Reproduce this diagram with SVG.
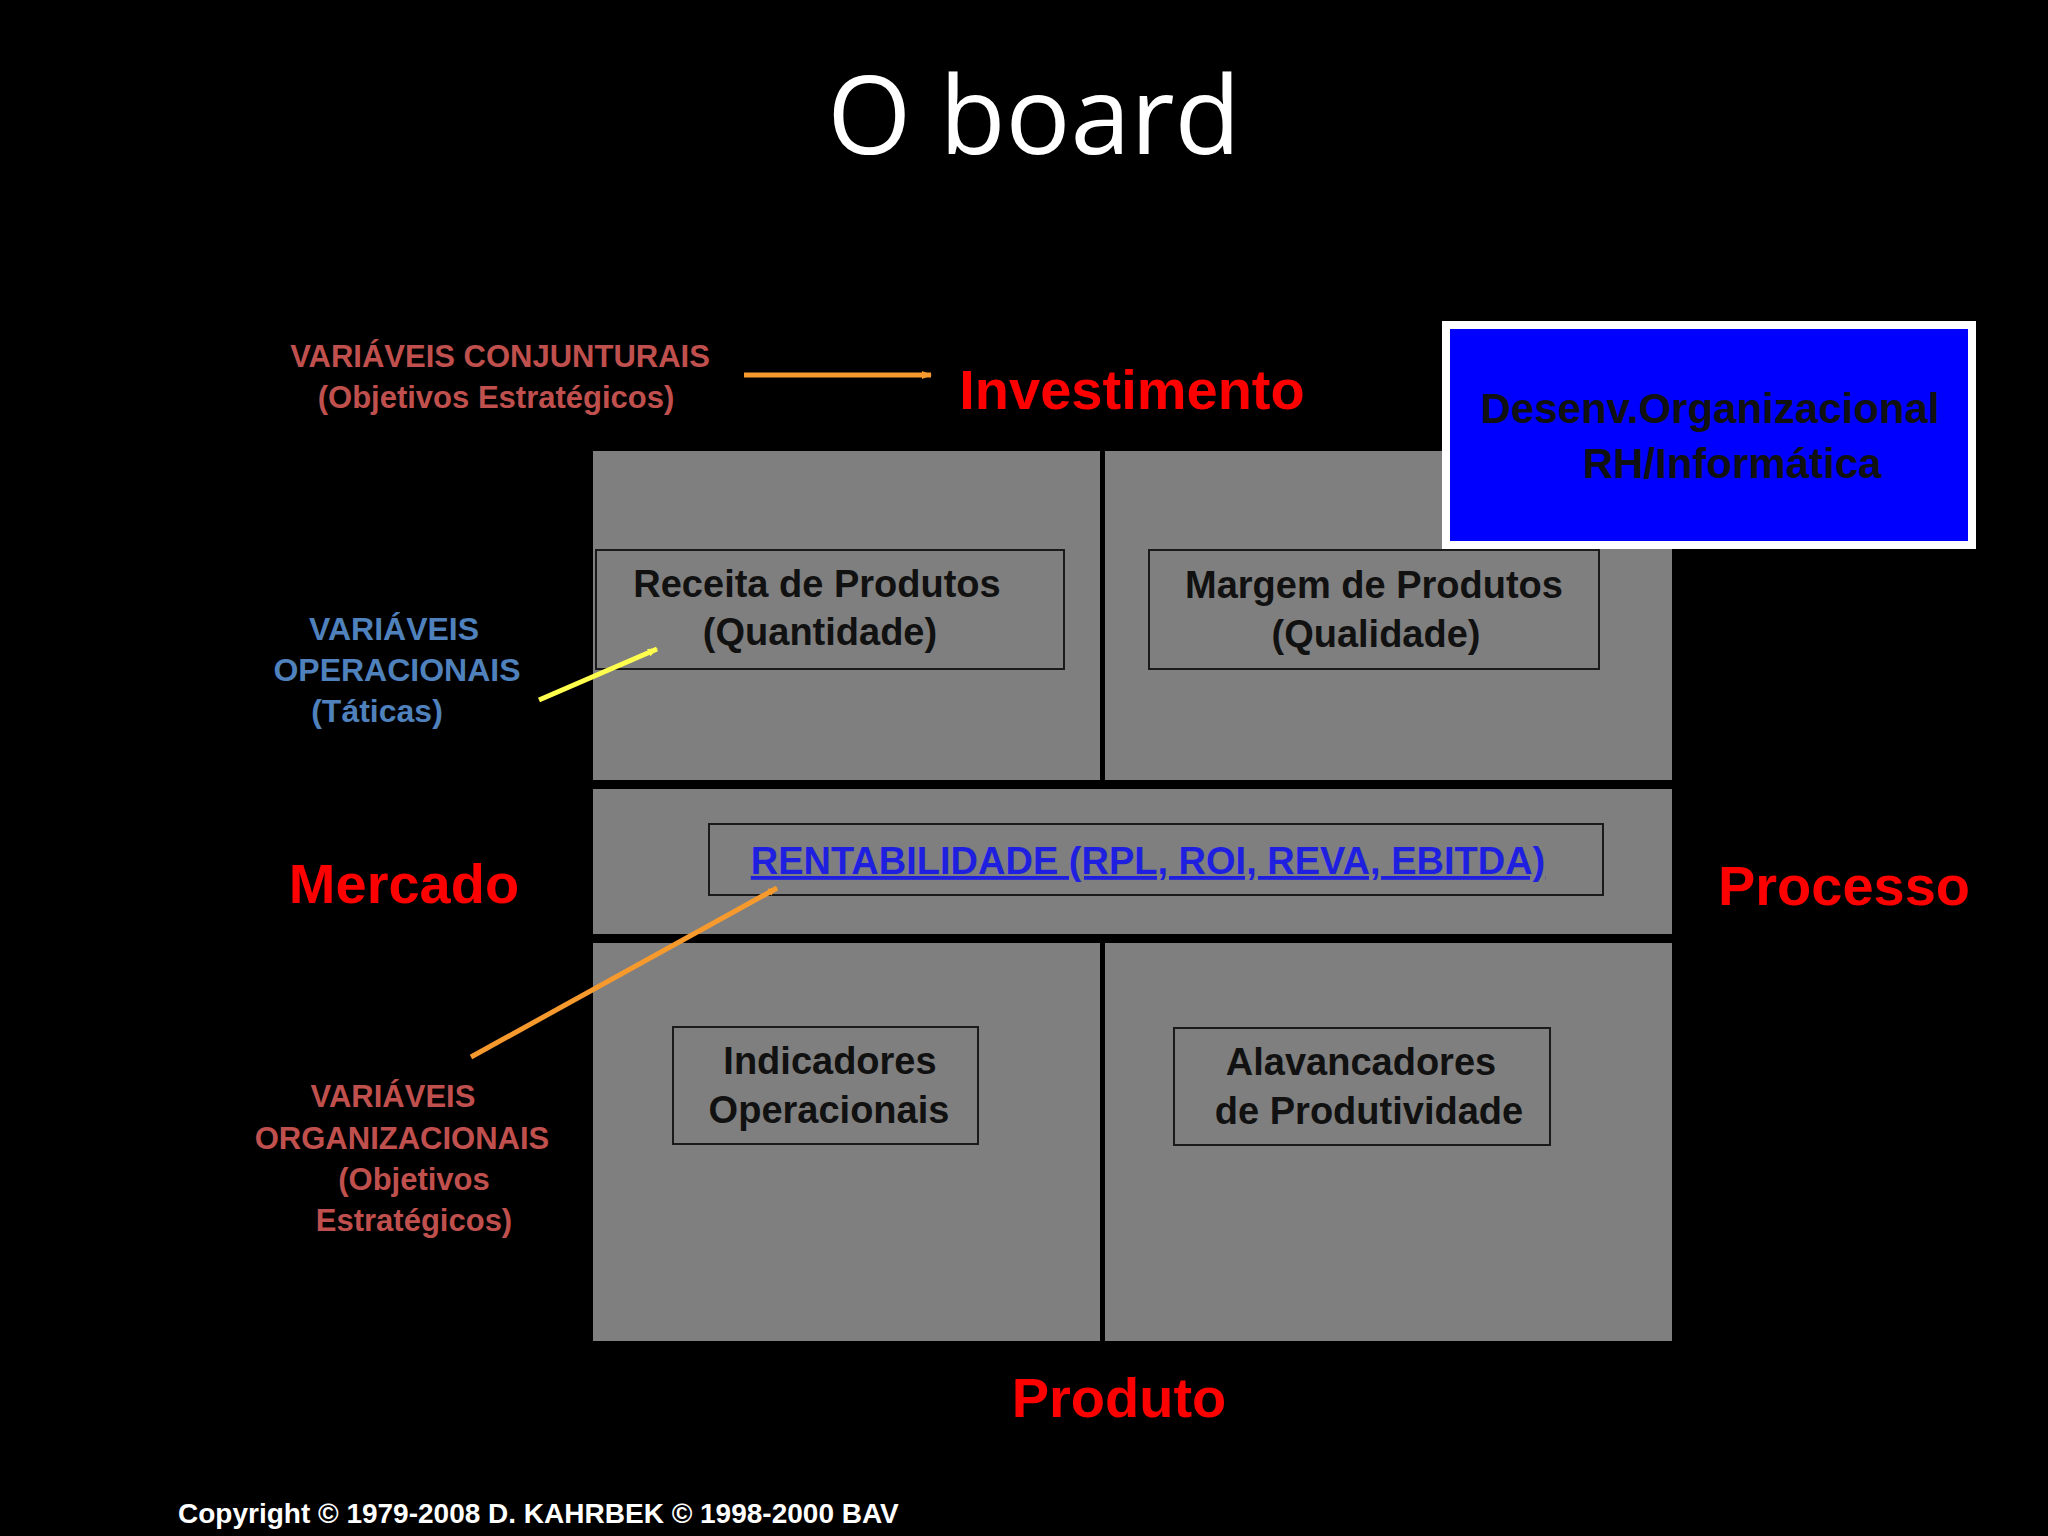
<svg xmlns="http://www.w3.org/2000/svg" width="2048" height="1536" viewBox="0 0 2048 1536">
<style>
.p{fill:#7f7f7f}
.b{fill:none;stroke:#1a1a1a;stroke-width:2}
.t{font-family:"Liberation Sans",Arial,sans-serif;font-weight:bold;text-anchor:middle}
.k{fill:#111;font-size:38px}
.r{fill:#ff0000;font-size:56px}
.c{fill:#c0504d;font-size:31px}
.o{fill:#4f81bd;font-size:32px}
</style>
<defs>
<marker id="ao" markerWidth="10" markerHeight="8" refX="9" refY="4" orient="auto" markerUnits="userSpaceOnUse" viewBox="0 0 10 8"><path d="M0,0L10,4L0,8z" fill="#f79a2e"/></marker>
<marker id="ay" markerWidth="10" markerHeight="8" refX="9" refY="4" orient="auto" markerUnits="userSpaceOnUse" viewBox="0 0 10 8"><path d="M0,0L10,4L0,8z" fill="#ffff4d"/></marker>
</defs>
<rect width="2048" height="1536" fill="#000"/>
<text x="1034" y="154" font-family="'Open Sans','Noto Sans',sans-serif" font-size="108" fill="#fff" text-anchor="middle">O board</text>
<g id="panels">
<rect class="p" x="593" y="451" width="507" height="329"/>
<rect class="p" x="1105" y="451" width="567" height="329"/>
<rect class="p" x="593" y="789" width="1079" height="145"/>
<rect class="p" x="593" y="943" width="507" height="398"/>
<rect class="p" x="1105" y="943" width="567" height="398"/>
</g>
<g id="receita"><rect class="b" x="596" y="550" width="468" height="119"/>
<text class="t k" x="817" y="597">Receita de Produtos</text>
<text class="t k" x="820" y="645" font-weight="normal">(Quantidade)</text></g>
<g id="margem"><rect class="b" x="1149" y="550" width="450" height="119"/>
<text class="t k" x="1374" y="598">Margem de Produtos</text>
<text class="t k" x="1376" y="647" font-weight="normal">(Qualidade)</text></g>
<g id="rentabilidade"><rect class="b" x="709" y="824" width="894" height="71"/>
<text class="t" x="1148" y="874" font-size="38" fill="#1f1fe0" text-decoration="underline" style="text-anchor:middle">RENTABILIDADE (RPL, ROI, REVA, EBITDA) </text></g>
<g id="indicadores"><rect class="b" x="673" y="1027" width="305" height="117"/>
<text class="t k" x="830" y="1074">Indicadores</text>
<text class="t k" x="829" y="1123">Operacionais</text></g>
<g id="alavancadores"><rect class="b" x="1174" y="1028" width="376" height="117"/>
<text class="t k" x="1361" y="1075">Alavancadores</text>
<text class="t k" x="1369" y="1124">de Produtividade</text></g>
<g id="desenv"><rect x="1442" y="321" width="534" height="228" fill="#fff"/><rect x="1450" y="329" width="518" height="212" fill="#0000ff"/>
<text class="t" x="1710" y="423" font-size="42" fill="#111">Desenv.Organizacional</text>
<text class="t" x="1732" y="478" font-size="42" fill="#111">RH/Informática</text></g>
<g id="labels">
<text class="t r" x="1132" y="409">Investimento</text>
<text class="t r" x="404" y="887" dy="16">Mercado</text>
<text class="t r" x="1844" y="889" dy="16">Processo</text>
<text class="t r" x="1119" y="1417">Produto</text>
<text class="t c" x="500" y="367">VARIÁVEIS  CONJUNTURAIS</text>
<text class="t c" x="496" y="408">(Objetivos Estratégicos)</text>
<text class="t o" x="394" y="640">VARIÁVEIS</text>
<text class="t o" x="397" y="681">OPERACIONAIS</text>
<text class="t o" x="377" y="722">(Táticas)</text>
<text class="t c" x="393" y="1107">VARIÁVEIS</text>
<text class="t c" x="402" y="1149">ORGANIZACIONAIS</text>
<text class="t c" x="414" y="1190">(Objetivos</text>
<text class="t c" x="414" y="1231">Estratégicos)</text>
<text x="178" y="1523" font-family="'Liberation Sans',Arial,sans-serif" font-weight="bold" font-size="28" fill="#fff">Copyright © 1979-2008 D. KAHRBEK © 1998-2000 BAV</text>
</g>
<g id="connectors" stroke-width="5">
<line x1="744" y1="375" x2="931" y2="375" stroke="#f79a2e" marker-end="url(#ao)"/>
<line x1="539" y1="700" x2="657" y2="649" stroke="#ffff4d" marker-end="url(#ay)"/>
<line x1="471" y1="1057" x2="777" y2="888" stroke="#f79a2e" marker-end="url(#ao)"/>
</g>
</svg>
